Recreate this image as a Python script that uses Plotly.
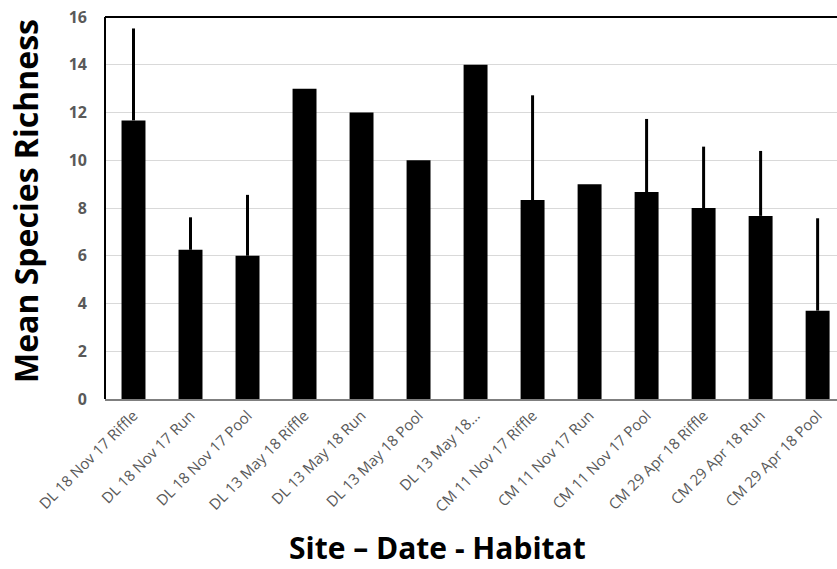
import plotly.graph_objects as go

categories = [
    "DL 18 Nov 17 Riffle", "DL 18 Nov 17 Run", "DL 18 Nov 17 Pool",
    "DL 13 May 18 Riffle", "DL 13 May 18 Run", "DL 13 May 18 Pool",
    "DL 13 May 18...", "CM 11 Nov 17 Riffle", "CM 11 Nov 17 Run",
    "CM 11 Nov 17 Pool", "CM 29 Apr 18 Riffle", "CM 29 Apr 18 Run",
    "CM 29 Apr 18 Pool",
]
mean_richness = [11.67, 6.25, 6.0, 13.0, 12.0, 10.0, 14.0, 8.33, 9.0, 8.67, 8.0, 7.67, 3.7]
error_plus = [3.85, 1.36, 2.55, 0, 0, 0, 0, 4.39, 0, 3.06, 2.57, 2.72, 3.87]
y_ticks = [0, 2, 4, 6, 8, 10, 12, 14, 16]

fig = go.Figure()
fig.add_trace(go.Bar(
    x=categories,
    y=mean_richness,
    marker=dict(color="black", line=dict(width=0)),
    error_y=dict(type="data", array=error_plus, arrayminus=[0] * len(error_plus),
                 symmetric=False, color="black", thickness=3, width=0),
))

fig.update_layout(
    width=837, height=569,
    margin=dict(l=105, r=0, t=17, b=170, autoexpand=False),
    paper_bgcolor="white", plot_bgcolor="white",
    bargap=0.58,
    showlegend=False,
    font=dict(family="Open Sans", color="#595959"),
    xaxis=dict(
        range=[-0.5, 12.34],
        tickangle=-45,
        tickfont=dict(size=15, color="#595959", family="Open Sans"),
        showline=True, linecolor="#7f7f7f", linewidth=2,
        showgrid=False, ticks="",
    ),
    yaxis=dict(
        range=[0, 16],
        tickvals=y_ticks,
        tickfont=dict(size=16, color="#595959", family="Open Sans", weight="bold"),
        showgrid=True, gridcolor="#d9d9d9", gridwidth=1,
        zeroline=False, ticks="", ticklabelstandoff=17,
    ),
    annotations=[
        dict(text="<b>Mean Species Richness</b>", xref="paper", yref="paper",
             x=-0.1086, y=0.517, xanchor="center", yanchor="middle",
             textangle=-90, showarrow=False,
             font=dict(size=32, color="black", family="Open Sans")),
        dict(text="<b>Site – Date - Habitat</b>", xref="paper", yref="paper",
             x=0.4542, y=-0.3885, xanchor="center", yanchor="middle",
             showarrow=False,
             font=dict(size=30, color="black", family="Open Sans")),
    ],
    shapes=[
        dict(type="line", xref="paper", yref="paper", x0=0, x1=0, y0=0, y1=1,
             line=dict(color="black", width=2), layer="above"),
        dict(type="line", xref="paper", yref="paper", x0=0, x1=1, y0=1, y1=1,
             line=dict(color="black", width=2), layer="above"),
    ],
)

fig.write_html("out.html", config={"displayModeBar": False},
               post_script="document.body.style.margin='0';")
